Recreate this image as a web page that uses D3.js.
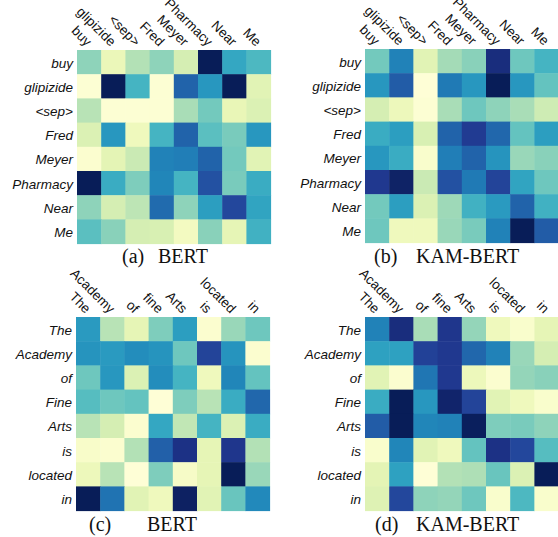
<!DOCTYPE html>
<html>
<head>
<meta charset="utf-8">
<script src="https://cdn.jsdelivr.net/npm/d3@7"></script>
<style>
  body { margin: 0; background: #fff; }
  svg { display: block; }
</style>
</head>
<body>
<svg id="chart" width="558" height="537"></svg>
<script>
// tokens
const tokensTop = ["buy", "glipizide", "<sep>", "Fred", "Meyer", "Pharmacy", "Near", "Me"];
const colsBottom = ["The", "Academy", "of", "fine", "Arts", "is", "located", "in"];
const rowsBottom = ["The", "Academy", "of", "Fine", "Arts", "is", "located", "in"];

// attention weights (normalised 0..1), rows x cols
const bertTop = [
  [0.35, 0.12, 0.28, 0.35, 0.20, 1.00, 0.55, 0.48],
  [0.02, 1.00, 0.50, 0.02, 0.74, 0.60, 1.00, 0.16],
  [0.27, 0.02, 0.02, 0.02, 0.30, 0.40, 0.13, 0.18],
  [0.18, 0.60, 0.10, 0.50, 0.74, 0.45, 0.39, 0.60],
  [0.03, 0.15, 0.23, 0.66, 0.67, 0.74, 0.40, 0.16],
  [1.00, 0.53, 0.38, 0.65, 0.50, 0.79, 0.39, 0.53],
  [0.35, 0.20, 0.26, 0.72, 0.35, 0.58, 0.82, 0.56],
  [0.45, 0.36, 0.20, 0.19, 0.08, 0.36, 0.14, 0.51]
];
const kamTop = [
  [0.40, 0.66, 0.16, 0.31, 0.36, 0.92, 0.41, 0.50],
  [0.60, 0.76, 0.01, 0.68, 0.60, 1.00, 0.60, 0.43],
  [0.20, 0.11, 0.02, 0.30, 0.41, 0.35, 0.30, 0.22],
  [0.53, 0.58, 0.19, 0.74, 0.86, 0.73, 0.43, 0.58],
  [0.60, 0.53, 0.04, 0.67, 0.74, 0.61, 0.33, 0.36],
  [0.87, 0.97, 0.23, 0.79, 0.68, 0.83, 0.56, 0.41],
  [0.40, 0.58, 0.18, 0.32, 0.51, 0.59, 0.74, 0.51],
  [0.41, 0.10, 0.10, 0.33, 0.39, 0.66, 1.00, 0.76]
];
const bertBottom = [
  [0.59, 0.27, 0.14, 0.38, 0.58, 0.03, 0.33, 0.41],
  [0.61, 0.59, 0.63, 0.61, 0.41, 0.83, 0.61, 0.03],
  [0.41, 0.60, 0.18, 0.63, 0.50, 0.10, 0.65, 0.43],
  [0.46, 0.41, 0.43, 0.01, 0.38, 0.27, 0.53, 0.73],
  [0.27, 0.20, 0.03, 0.55, 0.25, 0.50, 0.18, 0.53],
  [0.05, 0.03, 0.28, 0.75, 0.90, 0.14, 0.88, 0.28],
  [0.11, 0.27, 0.01, 0.38, 0.06, 0.14, 1.00, 0.33],
  [1.00, 0.70, 0.16, 0.10, 0.98, 0.16, 0.42, 0.64]
];
const kamBottom = [
  [0.66, 0.92, 0.30, 0.88, 0.34, 0.10, 0.04, 0.14],
  [0.57, 0.57, 0.84, 0.87, 0.73, 0.66, 0.33, 0.20],
  [0.16, 0.03, 0.69, 0.87, 0.11, 0.03, 0.34, 0.36],
  [0.53, 1.00, 0.60, 0.96, 0.83, 0.16, 0.10, 0.04],
  [0.76, 1.00, 0.65, 0.66, 0.99, 0.38, 0.39, 0.35],
  [0.04, 0.65, 0.16, 0.10, 0.43, 0.90, 0.82, 0.46],
  [0.15, 0.57, 0.01, 0.28, 0.29, 0.42, 0.18, 1.00],
  [0.17, 0.82, 0.35, 0.34, 0.41, 0.04, 0.48, 0.04]
];

const panels = [
  { tag: "(a)", name: "BERT", rows: tokensTop, cols: tokensTop, data: bertTop,
    x: 77, y: 50, tagX: 122, nameX: 158, capY: 263 },
  { tag: "(b)", name: "KAM-BERT", rows: tokensTop, cols: tokensTop, data: kamTop,
    x: 365, y: 49, tagX: 374, nameX: 416, capY: 263 },
  { tag: "(c)", name: "BERT", rows: rowsBottom, cols: colsBottom, data: bertBottom,
    x: 76, y: 317, tagX: 89, nameX: 147, capY: 531 },
  { tag: "(d)", name: "KAM-BERT", rows: rowsBottom, cols: colsBottom, data: kamBottom,
    x: 365, y: 317, tagX: 375, nameX: 416, capY: 531 }
];

const cell = 24.2;
const size = cell * 8;
const color = d3.scaleSequential(d3.interpolateYlGnBu).domain([0, 1]);
const sans = "'Liberation Sans', Arial, sans-serif";
const serif = "'Liberation Serif', 'Times New Roman', serif";

const svg = d3.select("#chart");

panels.forEach(p => {
  const idx = d3.range(8);
  const x = d3.scaleBand().domain(idx).range([0, size]);
  const y = d3.scaleBand().domain(idx).range([0, size]);

  const g = svg.append("g").attr("transform", `translate(${p.x},${p.y})`);

  const cells = [];
  p.data.forEach((row, r) => row.forEach((v, c) => cells.push({ r, c, v })));

  g.selectAll("rect")
    .data(cells)
    .enter()
    .append("rect")
    .attr("x", d => x(d.c))
    .attr("y", d => y(d.r))
    .attr("width", x.bandwidth() + 0.5)
    .attr("height", y.bandwidth() + 0.5)
    .attr("fill", d => color(d.v));

  // column labels, rotated 45deg, ending just above the cell
  g.selectAll("text.col")
    .data(idx)
    .enter()
    .append("text")
    .attr("class", "col")
    .attr("transform", i => `translate(${x(i) + x.bandwidth() / 2 - 3},-3) rotate(45)`)
    .attr("text-anchor", "end")
    .attr("font-family", sans)
    .attr("font-size", "13.5px")
    .attr("fill", "#111")
    .text(i => p.cols[i]);

  // row labels
  const left = g.append("g")
    .call(d3.axisLeft(y).tickSize(0).tickPadding(4).tickFormat(i => p.rows[i]));
  left.select(".domain").remove();
  left.selectAll("text")
    .attr("dy", "0.4em")
    .attr("font-family", sans)
    .attr("font-style", "italic")
    .attr("font-size", "13.5px")
    .attr("fill", "#111");

  // caption
  svg.append("text")
    .attr("x", p.tagX).attr("y", p.capY)
    .attr("font-family", serif)
    .attr("font-size", "20px")
    .attr("fill", "#111")
    .text(p.tag);
  svg.append("text")
    .attr("x", p.nameX).attr("y", p.capY)
    .attr("font-family", serif)
    .attr("font-size", "20px")
    .attr("fill", "#111")
    .text(p.name);
});
</script>
</body>
</html>
